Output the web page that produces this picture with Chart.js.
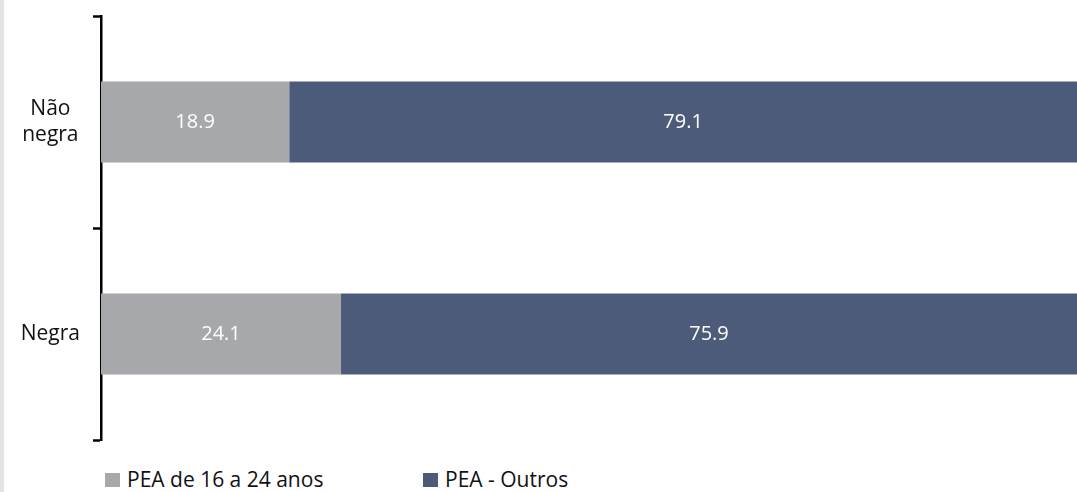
<!DOCTYPE html>
<html>
<head>
<meta charset="utf-8">
<script src="https://cdn.jsdelivr.net/npm/chart.js@4.4.0/dist/chart.umd.min.js"></script>
<style>
    html, body { margin: 0; padding: 0; background: #ffffff; }
    #wrap { position: relative; width: 1077px; height: 492px; overflow: hidden; }
    #strip { position: absolute; left: 0; top: 0; width: 4px; height: 492px; background: #e4e4e6; }
    #chart { position: absolute; left: 0; top: 0; }
    .item { position: absolute; top: 465px; font-family: 'Open Sans', sans-serif; font-size: 21px; line-height: normal; color: #111; white-space: nowrap; }
    .box { display: inline-block; width: 15px; height: 14px; margin-right: 7px; }
</style>
</head>
<body>
<div id="wrap">
    <div id="strip"></div>
    <canvas id="chart" width="1077" height="460"></canvas>
</div>
<script>
const categories = [['Não', 'negra'], 'Negra'];
const seriesNames = ['PEA de 16 a 24 anos', 'PEA - Outros'];
const jovens = [18.9, 24.1];
const outros = [79.1, 75.9];

const colors = {
    gray: '#a7a8ab',
    navy: '#4d5b7b'
};

// white value labels inside each segment
const valueLabels = {
    id: 'valueLabels',
    afterDatasetsDraw(chart) {
        const ctx = chart.ctx;
        ctx.save();
        ctx.fillStyle = '#ffffff';
        ctx.font = '20px "Open Sans", sans-serif';
        ctx.textAlign = 'center';
        ctx.textBaseline = 'middle';
        chart.data.datasets.forEach((ds, i) => {
            chart.getDatasetMeta(i).data.forEach((bar, j) => {
                const left = Math.max(bar.base, chart.chartArea.left);
                const right = Math.min(bar.x, chart.chartArea.right);
                ctx.fillText(ds.data[j].toFixed(1), (left + right) / 2, bar.y);
            });
        });
        ctx.restore();
    }
};

new Chart(document.getElementById('chart'), {
    type: 'bar',
    data: {
        labels: categories,
        datasets: [
            { label: seriesNames[0], data: jovens, backgroundColor: colors.gray },
            { label: seriesNames[1], data: outros, backgroundColor: colors.navy }
        ]
    },
    options: {
        indexAxis: 'y',
        responsive: false,
        animation: false,
        layout: { padding: { top: 16, right: 0, bottom: 20, left: 0 } },
        datasets: {
            bar: { categoryPercentage: 1, barPercentage: 0.382 }
        },
        plugins: {
            legend: { display: false },
            tooltip: { enabled: false }
        },
        scales: {
            x: {
                stacked: true,
                display: false,
                min: 0,
                max: 98
            },
            y: {
                stacked: true,
                afterFit(axis) {
                    axis.width = 101;
                    // labels sit at category centres, no edge padding needed
                    axis.paddingTop = 0;
                    axis.paddingBottom = 0;
                },
                grid: {
                    offset: true,
                    drawOnChartArea: false,
                    drawTicks: true,
                    tickLength: 8,
                    tickWidth: 2.5,
                    tickColor: '#000000'
                },
                border: { display: true, color: '#000000', width: 2.5 },
                ticks: {
                    crossAlign: 'center',
                    color: '#111111',
                    padding: 13,
                    font: { family: '"Open Sans", sans-serif', size: 21, lineHeight: 1.25 }
                }
            }
        }
    },
    plugins: [valueLabels]
});

// legend
const wrap = document.getElementById('wrap');
const legendX = [105, 423];
[colors.gray, colors.navy].forEach((c, i) => {
    const item = document.createElement('div');
    item.className = 'item';
    item.style.left = legendX[i] + 'px';
    item.innerHTML = '<span class="box" style="background:' + c + '"></span>' + seriesNames[i];
    wrap.appendChild(item);
});
</script>
</body>
</html>
